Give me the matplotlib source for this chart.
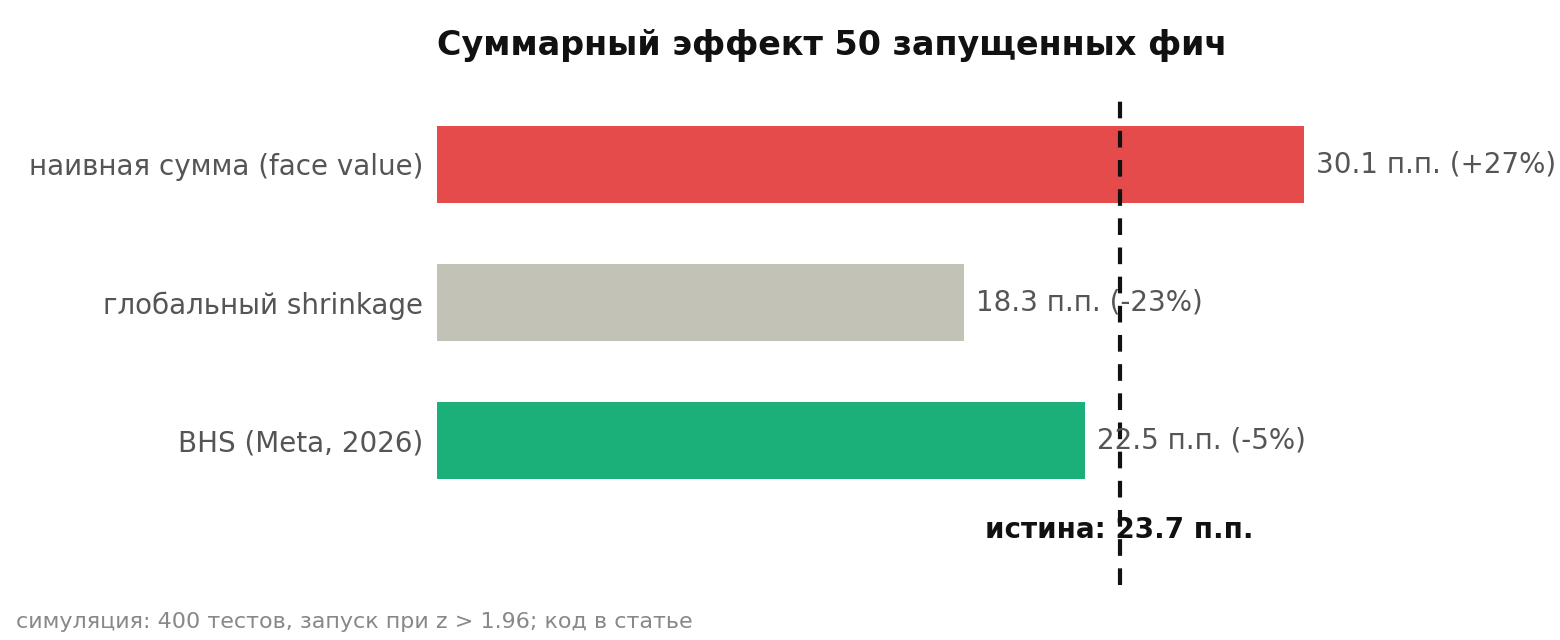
import matplotlib
matplotlib.use("Agg")
import matplotlib.pyplot as plt

methods = ["наивная сумма (face value)", "глобальный shrinkage", "BHS (Meta, 2026)"]
values = [30.1, 18.3, 22.5]
deltas = ["+27%", "-23%", "-5%"]
colors = ["#e44b4a", "#c2c2b6", "#1bb07a"]
truth = 23.7

fig = plt.figure(figsize=(15.6, 6.4), dpi=100)
ax = fig.add_axes([0.28, 1 - 585 / 640, 0.836 - 0.28, (585 - 90) / 640])

ypos = list(range(len(methods)))
ax.barh(ypos, values, height=0.56, color=colors)
for y, v, d in zip(ypos, values, deltas):
    ax.text(v + 0.4, y, f"{v} п.п. ({d})", va="center", ha="left",
            fontsize=20, color="#555555", clip_on=False)

ax.axvline(truth, color="#111111", linestyle="--", linewidth=3, dashes=(4, 3))
ax.text(truth, 2.65, f"истина: {truth} п.п.", ha="center", va="center",
        fontsize=20, fontweight="bold", color="#111111")

ax.set_xlim(0, 30.1)
ax.set_ylim(3.05, -0.54)
ax.set_yticks(ypos)
ax.set_yticklabels(methods, fontsize=20, color="#555555")
ax.tick_params(axis="y", length=0, pad=10)
ax.set_xticks([])
for s in ax.spines.values():
    s.set_visible(False)

fig.text(437 / 1560, 1 - 45 / 640, "Суммарный эффект 50 запущенных фич",
         ha="left", va="center", fontsize=24, fontweight="bold", color="#111111")
fig.text(16 / 1560, 1 - 622 / 640, "симуляция: 400 тестов, запуск при z > 1.96; код в статье",
         ha="left", va="center", fontsize=16, color="#888888")

fig.savefig("out.png", dpi=100)
